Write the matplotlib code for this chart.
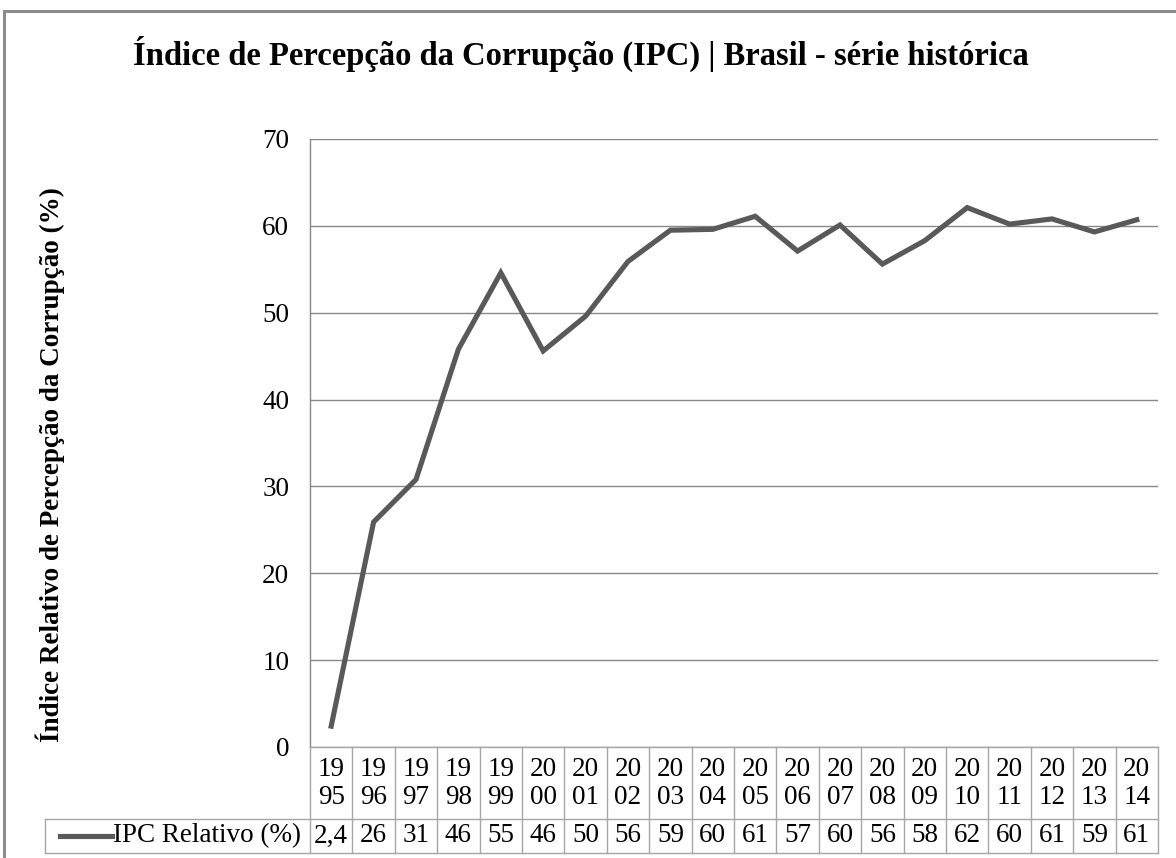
import matplotlib
matplotlib.use("Agg")
import matplotlib.pyplot as plt
from matplotlib.transforms import blended_transform_factory
from matplotlib.patches import Rectangle
from matplotlib.lines import Line2D

years = ["1995", "1996", "1997", "1998", "1999", "2000", "2001", "2002", "2003", "2004",
         "2005", "2006", "2007", "2008", "2009", "2010", "2011", "2012", "2013", "2014"]
ipc_values = [2.4, 25.9, 30.8, 45.8, 54.6, 45.6, 49.6, 55.9, 59.5, 59.6,
              61.1, 57.1, 60.1, 55.6, 58.3, 62.1, 60.2, 60.8, 59.3, 60.7]
table_labels = ["2,4", "26", "31", "46", "55", "46", "50", "56", "59", "60",
                "61", "57", "60", "56", "58", "62", "60", "61", "59", "61"]
series_name = "IPC Relativo (%)"
yticks = [0, 10, 20, 30, 40, 50, 60, 70]

W, H = 1176, 858
FONT = "Liberation Serif"
LINE_C = "#595959"
GRID_C = "#888888"
TAB_C = "#a6a6a6"
FS = 19.5

fig = plt.figure(figsize=(W / 100, H / 100), dpi=100)
fig.patch.set_facecolor("white")

def fy(py):
    return (H - py) / H

def fx(px):
    return px / W

# chart-area border (left & top visible)
fig.add_artist(Rectangle((fx(4), fy(900)), fx(1200) - fx(4), fy(11) - fy(900),
                         transform=fig.transFigure, fill=False,
                         edgecolor="#8c8c8c", linewidth=2.2))

left, right, top, bottom = 310, 1158, 139, 747
ax = fig.add_axes([fx(left), fy(bottom), fx(right) - fx(left), fy(top) - fy(bottom)])
x = list(range(len(years)))
ax.plot(x, ipc_values, color=LINE_C, linewidth=3.7, solid_joinstyle="miter", zorder=3)
ax.set_xlim(-0.5, len(years) - 0.5)
ax.set_ylim(0, 70)
ax.set_yticks(yticks)
ax.set_yticklabels([str(t) for t in yticks], fontfamily=FONT, fontsize=FS)
ax.tick_params(axis="y", length=0, pad=15)
ax.set_xticks([])
ax.yaxis.grid(True, color=GRID_C, linewidth=1.0)
ax.set_axisbelow(True)
for s in ["top", "right", "bottom"]:
    ax.spines[s].set_visible(False)
ax.spines["left"].set_color(GRID_C)
ax.spines["left"].set_linewidth(1.0)

# title and y label
fig.text(fx(581), fy(54), "Índice de Percepção da Corrupção (IPC) | Brasil - série histórica",
         ha="center", va="center", fontfamily=FONT, fontweight="bold", fontsize=23.5)
fig.text(fx(50), fy(465), "Índice Relativo de Percepção da Corrupção (%)",
         ha="center", va="center", rotation=90, fontfamily=FONT, fontweight="bold",
         fontsize=19.5)

# data table
tr = blended_transform_factory(ax.transData, fig.transFigure)
t_top, t_mid, t_bot = 747, 819, 853
n = len(years)
lw = 1.0
fig.add_artist(Line2D([-0.5, n - 0.5], [fy(t_top), fy(t_top)], transform=tr, color=TAB_C, lw=lw))
fig.add_artist(Line2D([fx(45), fx(right)], [fy(t_mid), fy(t_mid)], transform=fig.transFigure, color=TAB_C, lw=lw))
fig.add_artist(Line2D([fx(45), fx(right)], [fy(t_bot), fy(t_bot)], transform=fig.transFigure, color=TAB_C, lw=lw))
for i in range(n + 1):
    fig.add_artist(Line2D([i - 0.5, i - 0.5], [fy(t_top), fy(t_bot)], transform=tr, color=TAB_C, lw=lw))
fig.add_artist(Line2D([fx(45), fx(45)], [fy(t_mid), fy(t_bot)], transform=fig.transFigure, color=TAB_C, lw=lw))

for i, (yr, lab) in enumerate(zip(years, table_labels)):
    fig.text(i, fy(770), yr[:2], transform=tr, ha="center", va="center",
             fontfamily=FONT, fontsize=FS)
    fig.text(i, fy(798), yr[2:], transform=tr, ha="center", va="center",
             fontfamily=FONT, fontsize=FS)
    fig.text(i, fy(836), lab, transform=tr, ha="center", va="center",
             fontfamily=FONT, fontsize=FS)

# legend key
fig.add_artist(Line2D([fx(60), fx(112)], [fy(836), fy(836)], transform=fig.transFigure,
                      color=LINE_C, lw=3.7))
fig.text(fx(113), fy(836), series_name, ha="left", va="center",
         fontfamily=FONT, fontsize=FS)

fig.savefig("out.png", dpi=100)
